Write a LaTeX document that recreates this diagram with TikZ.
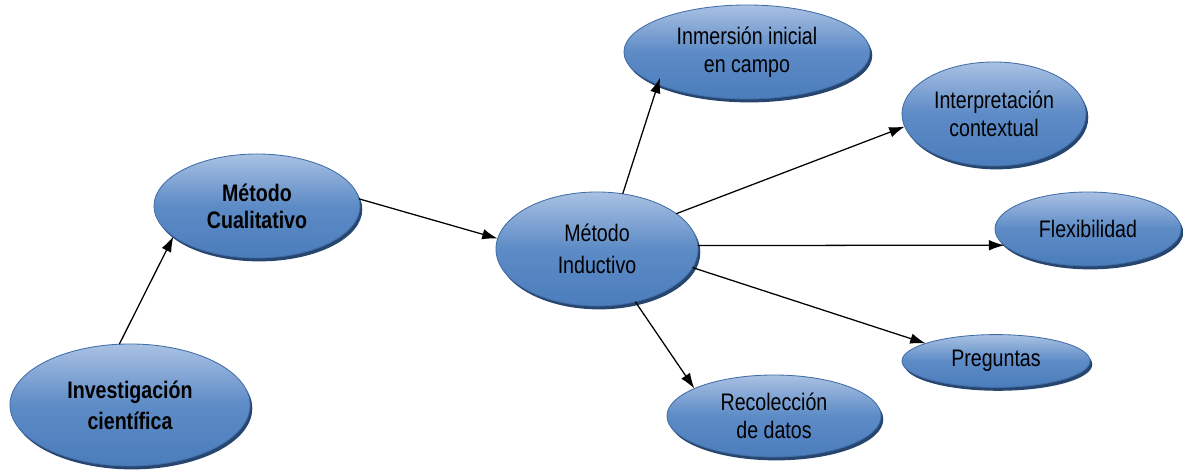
\documentclass[tikz,border=0pt]{standalone}
\usepackage{fontspec}
\setmainfont{Liberation Sans}[FakeStretch=0.82]
\usepackage{tkz-graph}
\usetikzlibrary{arrows.meta,shapes.geometric,shadows}

\definecolor{ovalTop}{HTML}{A9C1E3}
\definecolor{ovalMid}{HTML}{5D8BC6}
\definecolor{ovalBottom}{HTML}{4B7DBC}
\definecolor{ovalLine}{HTML}{416DA6}
\definecolor{ovalShadow}{HTML}{27466F}

\begin{document}
\begin{tikzpicture}[x=0.025cm,y=-0.025cm, font=\fontsize{17}{20}\selectfont]
		\tikzset{VertexStyle/.style = {ellipse, draw=ovalLine, line width=0.6pt,
			top color=ovalTop, bottom color=ovalBottom, middle color=ovalMid,
			drop shadow={fill=ovalShadow, opacity=1, shadow xshift=1.6pt, shadow yshift=-2.4pt},
			align=center, inner sep=0pt, text=black}}
		\tikzset{EdgeStyle/.style = {line width=0.9pt, -{Latex[length=11pt,width=7.5pt]}}}
		\useasboundingbox (0,0) rectangle (1183,472);
		\Vertex[x=130 ,y=405,L={Investigación\\científica},style={minimum width=6cm,minimum height=3.05cm,font=\fontsize{17}{22}\selectfont\bfseries}]{inv}
		\Vertex[x=257 ,y=206,L={Método\\Cualitativo},style={minimum width=5.15cm,minimum height=2.6cm,font=\fontsize{17}{19}\selectfont\bfseries}]{cual}
		\Vertex[x=597 ,y=249,L={Método\\Inductivo},style={minimum width=5.05cm,minimum height=2.85cm,font=\fontsize{17}{23}\selectfont\mdseries}]{ind}
		\Vertex[x=747 ,y=52 ,L={Inmersión inicial\\en campo},style={minimum width=6.15cm,minimum height=2.35cm}]{inm}
		\Vertex[x=994 ,y=114,L={Interpretación\\contextual},style={minimum width=4.6cm,minimum height=2.6cm}]{inter}
		\Vertex[x=1088,y=229,L={Flexibilidad},style={minimum width=4.65cm,minimum height=1.85cm}]{flex}
		\Vertex[x=996 ,y=361,L={Preguntas},style={minimum width=4.7cm,minimum height=1.32cm}]{preg}
		\Vertex[x=774 ,y=416,L={Recolección\\de datos},style={minimum width=5.35cm,minimum height=2.05cm}]{rec}
	%	arrows from anchor to anchor
		\draw[EdgeStyle] (inv.100) -- (cual.200);
		\draw[EdgeStyle] (cual.4) -- (ind.174);
		\draw[EdgeStyle, shorten >=-5pt] (ind.65) -- (inm.200);
		\draw[EdgeStyle] (ind.24) -- (inter.188);
		\draw[EdgeStyle] (ind.2) -- (flex.191);
		\draw[EdgeStyle] (ind.349) -- (preg.166);
		\draw[EdgeStyle] (ind.306) -- (rec.161);
	\end{tikzpicture}
\end{document}
